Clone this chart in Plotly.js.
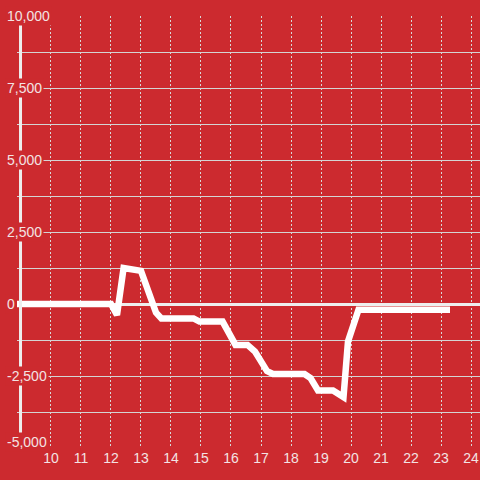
<!DOCTYPE html>
<html>
<head>
<meta charset="utf-8">
<script src="https://cdn.plot.ly/plotly-3.0.1.min.js"></script>
<style>html,body{margin:0;padding:0;background:#cc2a2f;}#chart{width:480px;height:480px;}</style>
</head>
<body>
<div id="chart"></div>
<script>
const xValues = [8.8, 12.0, 12.2, 12.42, 13.0, 13.5, 13.68, 14.75, 14.95, 15.72, 16.15, 16.55, 16.8, 17.2, 17.4, 18.45, 18.65, 18.9, 19.4, 19.75, 19.9, 20.0, 20.25, 23.3];
const yValues = [0, 0, -380, 1250, 1150, -300, -500, -500, -610, -610, -1420, -1420, -1650, -2330, -2430, -2430, -2570, -3000, -3000, -3230, -1300, -950, -200, -200];
const xTickVals = [10, 11, 12, 13, 14, 15, 16, 17, 18, 19, 20, 21, 22, 23, 24];
const yGridVals = [-5000, -3750, -2500, -1250, 0, 1250, 2500, 3750, 5000, 6250, 7500, 8750, 10000];
const yLabelVals = [-5000, -2500, 0, 2500, 5000, 7500, 10000];
const yLabelTexts = ['-5,000', '-2,500', '0', '2,500', '5,000', '7,500', '10,000'];

const BG = '#cc2a2f';
const TXT = '#f3e3e3';
const FONT = 'Liberation Sans, Arial, sans-serif';

const yMin = Math.min(...yLabelVals);
const annotations = yLabelVals.map((v, i) => ({
  xref: 'paper', yref: 'y',
  x: -0.026, y: v,
  xanchor: 'left',
  yanchor: 'middle',
  yshift: v === yMin ? 6 : 0,
  text: yLabelTexts[i],
  showarrow: false,
  bgcolor: BG,
  borderpad: 1,
  font: {family: FONT, size: 14, color: TXT}
}));

const trace = {
  x: xValues, y: yValues,
  type: 'scatter', mode: 'lines',
  line: {color: '#ffffff', width: 6.5},
  hoverinfo: 'skip'
};

const layout = {
  width: 480, height: 480,
  paper_bgcolor: BG, plot_bgcolor: BG,
  margin: {l: 17, r: 0, t: 16, b: 32},
  showlegend: false,
  font: {family: FONT, size: 14, color: TXT},
  xaxis: {
    range: [8.867, 24.3],
    tickvals: xTickVals,
    ticktext: xTickVals.map(String),
    showgrid: true, gridcolor: '#d8d8d8', gridwidth: 1, griddash: '2px,2px',
    zeroline: false, showline: false, ticks: '',
    tickfont: {family: FONT, size: 14, color: TXT}
  },
  yaxis: {
    range: [-5000, 10000],
    tickvals: yGridVals,
    showticklabels: false,
    showgrid: true, gridcolor: '#d4d4d4', gridwidth: 1,
    zeroline: true, zerolinecolor: '#eeeeee', zerolinewidth: 3,
    showline: false, ticks: ''
  },
  shapes: [{
    type: 'line', xref: 'paper', yref: 'paper',
    x0: 0.0076, x1: 0.0076, y0: 0, y1: 1,
    line: {color: '#eeeeee', width: 3},
    layer: 'above'
  }],
  annotations: annotations
};

Plotly.newPlot('chart', [trace], layout, {displayModeBar: false, staticPlot: true});
</script>
</body>
</html>
